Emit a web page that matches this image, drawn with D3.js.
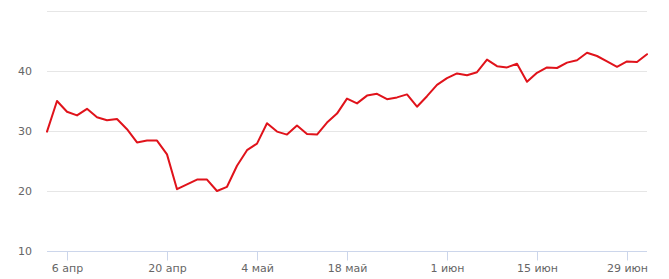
<!DOCTYPE html>
<html>
<head>
<meta charset="utf-8">
<script src="https://cdn.jsdelivr.net/npm/d3@7"></script>
<style>
  body { margin: 0; background: #fff; }
  text { font-family: "DejaVu Sans", sans-serif; font-size: 11px; fill: #666; }
</style>
</head>
<body>
<div id="chart"></div>
<script>
// trading days (category axis)
var dates = [
  "2020-04-02","2020-04-03","2020-04-06","2020-04-07","2020-04-08","2020-04-09","2020-04-10",
  "2020-04-13","2020-04-14","2020-04-15","2020-04-16","2020-04-17","2020-04-20","2020-04-21",
  "2020-04-22","2020-04-23","2020-04-24","2020-04-27","2020-04-28","2020-04-29","2020-04-30",
  "2020-05-04","2020-05-05","2020-05-06","2020-05-07","2020-05-08","2020-05-12","2020-05-13",
  "2020-05-14","2020-05-15","2020-05-18","2020-05-19","2020-05-20","2020-05-21","2020-05-22",
  "2020-05-25","2020-05-26","2020-05-27","2020-05-28","2020-05-29","2020-06-01","2020-06-02",
  "2020-06-03","2020-06-04","2020-06-05","2020-06-08","2020-06-09","2020-06-10","2020-06-11",
  "2020-06-15","2020-06-16","2020-06-17","2020-06-18","2020-06-19","2020-06-22","2020-06-23",
  "2020-06-25","2020-06-26","2020-06-29","2020-06-30","2020-07-02"
];

var values = [
  29.9, 35.0, 33.2, 32.6, 33.7, 32.3, 31.8, 32.0, 30.3, 28.1,
  28.4, 28.4, 26.1, 20.3, 21.1, 21.9, 21.9, 20.0, 20.7, 24.2,
  26.8, 27.9, 31.3, 29.9, 29.4, 30.9, 29.5, 29.4, 31.4, 32.9,
  35.4, 34.6, 35.9, 36.2, 35.3, 35.6, 36.1, 34.05, 35.8, 37.7,
  38.8, 39.6, 39.3, 39.8, 41.9, 40.8, 40.6, 41.2, 38.2, 39.7,
  40.6, 40.5, 41.4, 41.8, 43.05, 42.5, 41.6, 40.7, 41.6, 41.5,
  42.8
];

var tickDates = ["2020-04-06","2020-04-20","2020-05-04","2020-05-18","2020-06-01","2020-06-15","2020-06-29"];
var tickLabels = ["6 апр","20 апр","4 май","18 май","1 июн","15 июн","29 июн"];

var yTicks = [10, 20, 30, 40];
var yGrid = [20, 30, 40, 50];

var svgWidth = 669;
var svgHeight = 279;

var margin = { top: 11, right: 22, bottom: 28, left: 47 };
var width = svgWidth - margin.left - margin.right;
var height = svgHeight - margin.top - margin.bottom;

var svg = d3.select("#chart")
  .append("svg")
  .attr("width", svgWidth)
  .attr("height", svgHeight);

var chartGroup = svg.append("g")
  .attr("transform", `translate(${margin.left}, ${margin.top})`);

var data = dates.map(function(d, i) {
  return { date: d, value: values[i] };
});

// scales
var xScale = d3.scalePoint()
  .domain(dates)
  .range([0, width]);

var yScale = d3.scaleLinear()
  .domain([10, 50])
  .range([height, 0]);

// grid lines
chartGroup.selectAll(".grid")
  .data(yGrid)
  .enter()
  .append("line")
  .attr("x1", 0)
  .attr("x2", width)
  .attr("y1", d => Math.round(yScale(d)) + 0.5)
  .attr("y2", d => Math.round(yScale(d)) + 0.5)
  .attr("stroke", "#e6e6e6")
  .attr("stroke-width", 1);

// bottom axis
var bottomAxis = d3.axisBottom(xScale)
  .tickValues(tickDates)
  .tickSize(9)
  .tickPadding(4)
  .tickFormat((d, i) => tickLabels[i]);

var xAxis = chartGroup.append("g")
  .attr("transform", `translate(0, ${Math.round(height) + 0.5})`)
  .call(bottomAxis);

xAxis.select(".domain").remove();
xAxis.selectAll(".tick line").attr("stroke", "#ccd6eb");
xAxis.selectAll(".tick text")
  .attr("fill", "#666")
  .style("font-family", "DejaVu Sans, sans-serif")
  .style("font-size", "11px");

xAxis.append("line")
  .attr("x1", 0)
  .attr("x2", width)
  .attr("stroke", "#ccd6eb");

// left axis labels
var leftAxis = d3.axisLeft(yScale)
  .tickValues(yTicks)
  .tickSize(0)
  .tickPadding(15);

var yAxis = chartGroup.append("g")
  .call(leftAxis);

yAxis.select(".domain").remove();
yAxis.selectAll(".tick text")
  .attr("fill", "#666")
  .style("font-family", "DejaVu Sans, sans-serif")
  .style("font-size", "11px");

// line
var line = d3.line()
  .x(d => xScale(d.date))
  .y(d => yScale(d.value));

chartGroup.append("path")
  .datum(data)
  .attr("fill", "none")
  .attr("stroke", "#e0131b")
  .attr("stroke-width", 2)
  .attr("stroke-linejoin", "round")
  .attr("stroke-linecap", "round")
  .attr("d", line);
</script>
</body>
</html>
